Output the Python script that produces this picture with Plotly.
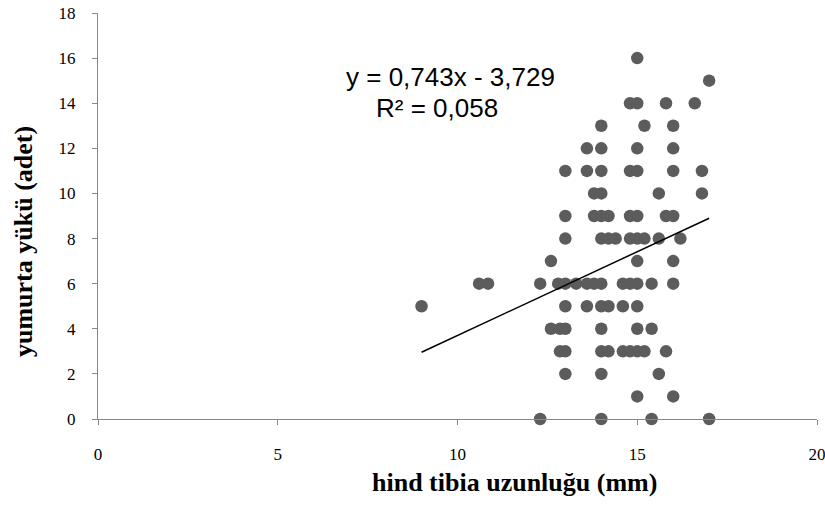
import plotly.graph_objects as go

# Data: (x = hind tibia length mm, y = egg load), grouped by y value
rows = {
    16: [15.0],
    15: [17.0],
    14: [14.8, 15.0, 15.8, 16.6],
    13: [14.0, 15.2, 16.0],
    12: [13.6, 14.0, 15.0, 16.0],
    11: [13.0, 13.6, 14.0, 14.8, 15.0, 16.0, 16.8],
    10: [13.8, 14.0, 15.6, 16.8],
    9: [13.0, 13.8, 14.0, 14.2, 14.8, 15.0, 15.8, 16.0],
    8: [13.0, 14.0, 14.2, 14.4, 14.8, 15.0, 15.2, 15.6, 16.2],
    7: [12.6, 15.0, 16.0],
    6: [10.6, 10.85, 12.3, 12.8, 13.0, 13.3, 13.6, 13.8, 14.0, 14.6, 14.8, 15.0, 15.4, 16.0],
    5: [9.0, 13.0, 13.6, 14.0, 14.2, 14.6, 15.0],
    4: [12.6, 12.85, 13.0, 14.0, 15.0, 15.4],
    3: [12.85, 13.0, 14.0, 14.2, 14.6, 14.8, 15.0, 15.2, 15.8],
    2: [13.0, 14.0, 15.6],
    1: [15.0, 16.0],
    0: [12.3, 14.0, 15.4, 17.0],
}
x_vals = [x for yv, xs in rows.items() for x in xs]
y_vals = [yv for yv, xs in rows.items() for x in xs]

slope = 0.743
intercept = -3.729
r2 = 0.058

x_ticks = [0, 5, 10, 15, 20]
y_ticks = [0, 2, 4, 6, 8, 10, 12, 14, 16, 18]

x_title = "hind tibia uzunluğu (mm)"
y_title = "yumurta yükü (adet)"

x_line = [min(x_vals), max(x_vals)]
y_line = [slope * v + intercept for v in x_line]

def fmt(v):
    return f"{v:.3f}".replace(".", ",")

fig = go.Figure()
fig.add_trace(go.Scatter(x=x_vals, y=y_vals, mode="markers",
                         marker=dict(size=12.5, color="#5c5c5c", line=dict(width=0)),
                         showlegend=False, cliponaxis=False))
fig.add_trace(go.Scatter(x=x_line, y=y_line, mode="lines",
                         line=dict(color="black", width=1.5), showlegend=False))

eq_font = dict(family="Liberation Sans", size=26, color="black")
fig.add_annotation(x=0.4896, y=0.8424, xref="paper", yref="paper",
                   text=f"y = {fmt(slope)}x - {fmt(-intercept)}",
                   showarrow=False, font=eq_font, xanchor="center", yanchor="middle")
fig.add_annotation(x=0.4715, y=0.766, xref="paper", yref="paper",
                   text=f"R² = {fmt(r2)}",
                   showarrow=False, font=eq_font, xanchor="center", yanchor="middle")

title_font = dict(family="Liberation Serif", size=26, color="black")
fig.add_annotation(x=0.579, y=-0.1576, xref="paper", yref="paper",
                   text=f"<b>{x_title}</b>", showarrow=False, font=title_font,
                   xanchor="center", yanchor="middle")
fig.add_annotation(x=-0.1029, y=0.436, xref="paper", yref="paper",
                   text=f"<b>{y_title}</b>", showarrow=False, font=title_font,
                   textangle=-90, xanchor="center", yanchor="middle")

axis_common = dict(showgrid=False, zeroline=False, showline=True, linecolor="#888888",
                   linewidth=1.3, ticks="outside", tickcolor="#888888", ticklen=5,
                   automargin=False, ticklabeloverflow="allow",
                   tickfont=dict(family="Liberation Serif", size=17, color="black"))

fig.update_xaxes(range=[0, 20], tickvals=x_ticks, ticklabelstandoff=14, **axis_common)
fig.update_yaxes(range=[0, 18], tickvals=y_ticks, ticklabelstandoff=13, **axis_common)

fig.update_layout(width=825, height=522, margin=dict(l=98, r=8, t=13, b=103),
                  plot_bgcolor="white", paper_bgcolor="white")

fig.write_html("out.html")
